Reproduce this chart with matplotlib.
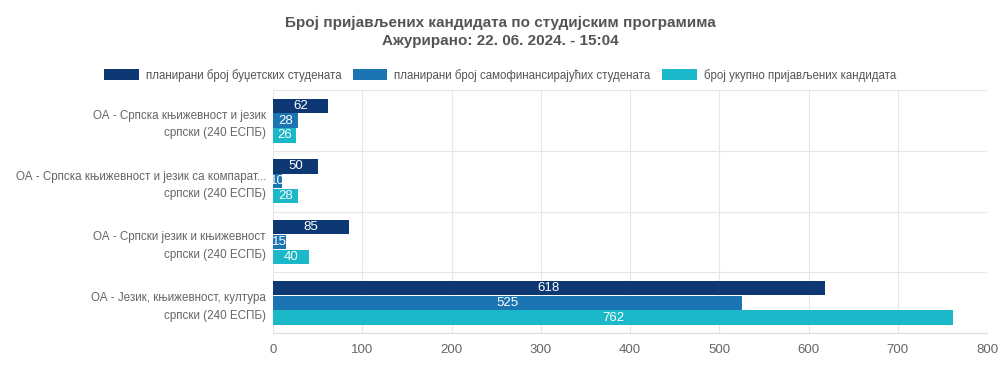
import matplotlib
matplotlib.use("Agg")
import matplotlib.pyplot as plt
import numpy as np
from matplotlib.patches import Patch

plt.rcParams['font.family'] = ['Liberation Sans', 'DejaVu Sans']

categories = [
    "ОА - Српска књижевност и језик\nсрпски (240 ЕСПБ)",
    "ОА - Српска књижевност и језик са компарат...\nсрпски (240 ЕСПБ)",
    "ОА - Српски језик и књижевност\nсрпски (240 ЕСПБ)",
    "ОА - Језик, књижевност, култура\nсрпски (240 ЕСПБ)",
]
series_names = [
    "планирани број буџетских студената",
    "планирани број самофинансирајућих студената",
    "број укупно пријављених кандидата",
]
budget = [62, 50, 85, 618]
selffin = [28, 10, 15, 525]
applied = [26, 28, 40, 762]
xticks = [0, 100, 200, 300, 400, 500, 600, 700, 800]

colors = ["#0d3874", "#1b75b2", "#1ab8c9"]
title = "Број пријављених кандидата по студијским програмима\nАжурирано: 22. 06. 2024. - 15:04"

fig = plt.figure(figsize=(10, 3.68), dpi=100)
ax = fig.add_axes([0.273, 0.095, 0.714, 0.66])

n = len(categories)
y = np.arange(n)
bh = 0.245
offsets = [-bh, 0, bh]
data = [budget, selffin, applied]
for s, (vals, off, c) in enumerate(zip(data, offsets, colors)):
    bars = ax.barh(y + off, vals, height=bh * 0.96, color=c, zorder=3)
    for b, v in zip(bars, vals):
        ax.text(b.get_x() + b.get_width() / 2, b.get_y() + b.get_height() / 2, str(v),
                ha='center', va='center', color='white', fontsize=9.5,
                zorder=4, clip_on=False)

ax.set_ylim(n - 0.5, -0.5)
ax.set_xlim(0, 800)
ax.set_xticks(xticks)
ax.set_xticklabels([str(t) for t in xticks], color='#666666', fontsize=9.5)
ax.set_yticks(y)
ax.set_yticklabels(categories, color='#666666', fontsize=8.4, linespacing=1.6)
ax.tick_params(axis='x', length=0, pad=8)
ax.tick_params(axis='y', length=0, pad=5)
ax.set_yticks(np.arange(n + 1) - 0.5, minor=True)
ax.tick_params(axis='y', which='minor', length=0)
ax.grid(True, axis='x', color='#e6e6e6', linewidth=0.8, zorder=0)
ax.grid(True, axis='y', which='minor', color='#e6e6e6', linewidth=0.8, zorder=0)
ax.grid(False, axis='y', which='major')
for sp in ['top', 'right', 'left']:
    ax.spines[sp].set_visible(False)
ax.spines['bottom'].set_color('#dddddd')

fig.text(0.5, 0.913, title, ha='center', va='center', fontsize=11,
         fontweight='bold', color='#555555', linespacing=1.35)

handles = [Patch(facecolor=c, edgecolor='none') for c in colors]
fig.legend(handles, series_names, loc='center', bbox_to_anchor=(0.5, 0.796), ncol=3,
           frameon=False, fontsize=8.3, handlelength=3.0, handleheight=1.1,
           columnspacing=1.0, handletextpad=0.6, labelcolor='#555555')

fig.savefig("out.png", dpi=100)
